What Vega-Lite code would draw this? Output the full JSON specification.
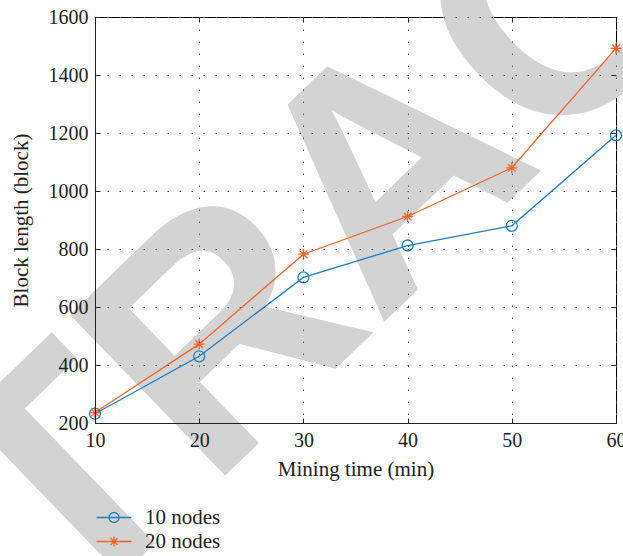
{
  "$schema": "https://vega.github.io/schema/vega-lite/v6.json",
  "autosize": "none",
  "padding": {"left": 95, "top": 17, "right": 7, "bottom": 133},
  "width": 521,
  "height": 406,
  "background": "white",
  "data": {
    "values": [
      {"time": 10, "length": 232, "series": "10 nodes"},
      {"time": 20, "length": 430, "series": "10 nodes"},
      {"time": 30, "length": 702, "series": "10 nodes"},
      {"time": 40, "length": 812, "series": "10 nodes"},
      {"time": 50, "length": 880, "series": "10 nodes"},
      {"time": 60, "length": 1192, "series": "10 nodes"},
      {"time": 10, "length": 236, "series": "20 nodes"},
      {"time": 20, "length": 472, "series": "20 nodes"},
      {"time": 30, "length": 782, "series": "20 nodes"},
      {"time": 40, "length": 912, "series": "20 nodes"},
      {"time": 50, "length": 1080, "series": "20 nodes"},
      {"time": 60, "length": 1492, "series": "20 nodes"}
    ]
  },
  "config": {
    "font": "Liberation Serif",
    "view": {"stroke": "black", "strokeWidth": 1},
    "axis": {
      "labelFont": "Liberation Serif",
      "titleFont": "Liberation Serif",
      "labelFontSize": 20,
      "titleFontSize": 21,
      "titleFontWeight": "normal",
      "labelColor": "#222",
      "titleColor": "#222",
      "domainColor": "#222",
      "tickColor": "#222",
      "gridColor": "#555",
      "gridDash": [1.5, 10.5],
      "gridWidth": 1
    },
    "legend": {
      "labelFont": "Liberation Serif",
      "labelFontSize": 21,
      "labelColor": "#222"
    }
  },
  "resolve": {"scale": {"shape": "independent", "color": "independent"}, "axis": {"x": "independent", "y": "independent"}},
  "layer": [
    {
      "data": {"values": [{"word": "RETRACTED"}]},
      "mark": {"type": "text", "font": "Liberation Sans", "fontWeight": "bold", "fontSize": 325, "angle": -44, "align": "center", "baseline": "alphabetic", "color": "#d3d3d3"},
      "encoding": {
        "x": {"datum": 45.3, "type": "quantitative", "scale": {"domain": [10, 60], "nice": false, "zero": false}, "axis": null},
        "y": {"datum": 810, "type": "quantitative", "scale": {"domain": [200, 1600], "nice": false, "zero": false}, "axis": null},
        "text": {"field": "word"}
      }
    },
    {
      "mark": {"type": "line", "strokeWidth": 1.3},
      "encoding": {
        "x": {"field": "time", "type": "quantitative", "axis": {"orient": "bottom", "values": [10, 20, 30, 40, 50, 60], "title": "Mining time (min)", "tickSize": -5, "labelPadding": 12, "titlePadding": 8, "grid": true, "labelFlush": false, "zindex": 1}},
        "y": {"field": "length", "type": "quantitative", "axis": {"orient": "left", "values": [200, 400, 600, 800, 1000, 1200, 1400, 1600], "format": "d", "title": "Block length (block)", "tickSize": -5, "labelPadding": 12, "titlePadding": 17, "grid": true, "zindex": 1}},
        "color": {"field": "series", "type": "nominal", "legend": null, "scale": {"domain": ["10 nodes", "20 nodes"], "range": ["#1b7ec2", "#f0642d"]}}
      }
    },
    {
      "mark": {"type": "point", "filled": false, "strokeWidth": 1.3, "size": 121, "opacity": 1},
      "encoding": {
        "x": {"field": "time", "type": "quantitative", "axis": {"orient": "top", "values": [10, 20, 30, 40, 50, 60], "labels": false, "title": null, "tickSize": -5, "domain": false, "grid": false, "zindex": 1}},
        "y": {"field": "length", "type": "quantitative", "axis": {"orient": "right", "values": [200, 400, 600, 800, 1000, 1200, 1400, 1600], "labels": false, "title": null, "tickSize": -5, "domain": false, "grid": false, "zindex": 1}},
        "color": {"field": "series", "type": "nominal", "legend": null, "scale": {"domain": ["10 nodes", "20 nodes"], "range": ["#1b7ec2", "#f0642d"]}},
        "shape": {
          "field": "series", "type": "nominal", "legend": null,
          "scale": {"domain": ["10 nodes", "20 nodes"], "range": ["circle", "M0,-1L0,1M-1,0L1,0M-0.7,-0.7L0.7,0.7M-0.7,0.7L0.7,-0.7"]}
        }
      }
    },
    {
      "transform": [{"filter": "datum.time > 1000"}],
      "mark": {"type": "point", "filled": false, "strokeWidth": 1.3, "size": 625, "opacity": 1},
      "encoding": {
        "x": {"field": "time", "type": "quantitative", "axis": null},
        "y": {"field": "length", "type": "quantitative", "axis": null},
        "color": {
          "field": "series", "type": "nominal",
          "scale": {"domain": ["10 nodes", "20 nodes"], "range": ["#1b7ec2", "#f0642d"]},
          "legend": {"title": null, "orient": "none", "legendX": 5.5, "legendY": 487, "padding": 0, "rowPadding": 0, "labelOffset": 17.5, "symbolSize": 625, "symbolStrokeWidth": 1.3, "symbolOpacity": 1}
        },
        "shape": {
          "field": "series", "type": "nominal",
          "legend": {"title": null, "orient": "none", "legendX": 5.5, "legendY": 487, "padding": 0, "rowPadding": 0, "labelOffset": 17.5, "symbolSize": 625, "symbolStrokeWidth": 1.3, "symbolOpacity": 1},
          "scale": {"domain": ["10 nodes", "20 nodes"], "range": ["M-1.4,0L1.4,0M0.4,0A0.4,0.4,0,1,1,-0.4,0A0.4,0.4,0,1,1,0.4,0", "M-1.4,0L1.4,0M0,-0.4L0,0.4M-0.28,-0.28L0.28,0.28M-0.28,0.28L0.28,-0.28"]}
        }
      }
    }
  ]
}
